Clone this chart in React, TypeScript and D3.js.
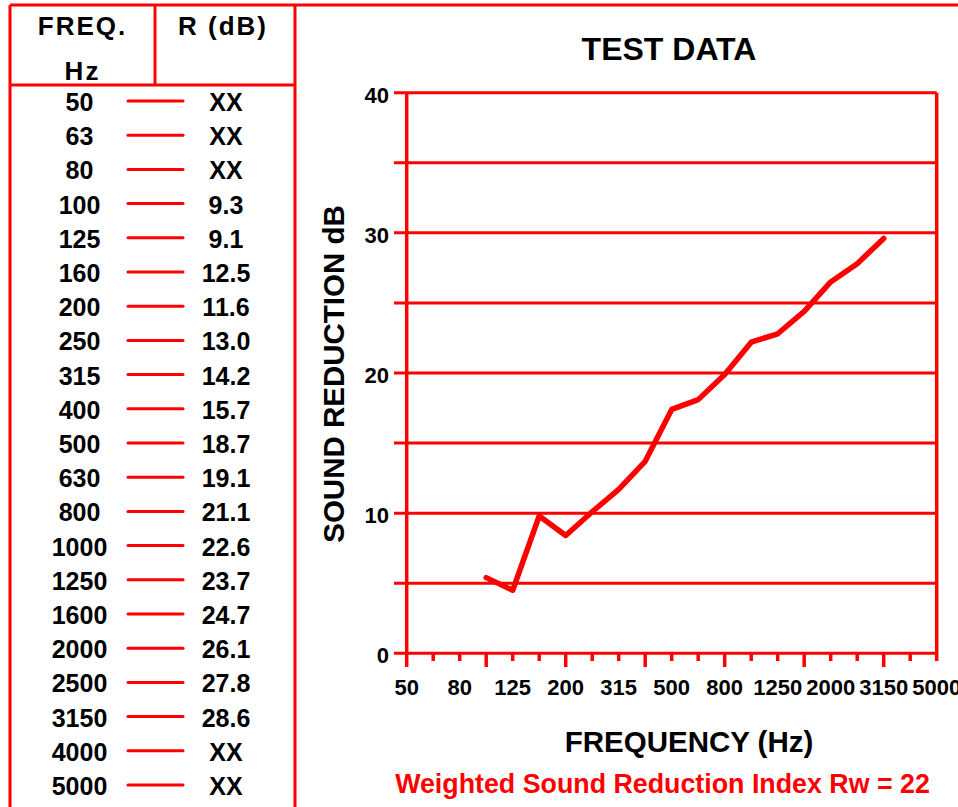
import React, { useEffect, useRef } from 'react';
import * as d3 from 'd3';

// one-third octave bands, used for the table rows and the x axis
const bands = ['50', '63', '80', '100', '125', '160', '200', '250', '315', '400', '500',
  '630', '800', '1000', '1250', '1600', '2000', '2500', '3150', '4000', '5000'];

// R (dB) column as printed in the table
const tableValues = ['XX', 'XX', 'XX', '9.3', '9.1', '12.5', '11.6', '13.0', '14.2', '15.7', '18.7',
  '19.1', '21.1', '22.6', '23.7', '24.7', '26.1', '27.8', '28.6', 'XX', 'XX'];

// curve as drawn on the graph
const curveFreqs = ['100', '125', '160', '200', '250', '315', '400', '500', '630', '800',
  '1000', '1250', '1600', '2000', '2500', '3150'];
const curveValues = [5.4, 4.5, 9.8, 8.4, 10.1, 11.7, 13.7, 17.4, 18.1, 19.9,
  22.2, 22.8, 24.4, 26.5, 27.8, 29.6];

const xTickLabels = ['50', '80', '125', '200', '315', '500', '800', '1250', '2000', '3150', '5000'];
const yTickLabels = [0, 10, 20, 30, 40];
const gridValues = [5, 10, 15, 20, 25, 30, 35];

const RED = '#ff0000';
const FONT = '"Liberation Sans", Arial, Helvetica, sans-serif';

export default function App() {
  const ref = useRef<SVGSVGElement | null>(null);

  useEffect(() => {
    const svg = d3.select(ref.current);
    svg.selectAll('*').remove();

    const width = 958;
    const height = 807;

    // ---- table on the left ----
    const tbl = svg.append('g');
    const border = (x1: number, y1: number, x2: number, y2: number) =>
      tbl.append('line')
        .attr('x1', x1).attr('y1', y1).attr('x2', x2).attr('y2', y2)
        .attr('stroke', RED).attr('stroke-width', 3);

    border(10, 5, width, 5);
    border(10, 5, 10, height);
    border(155, 5, 155, 85);
    border(295, 5, 295, height);
    border(10, 85, 295, 85);

    const header = [
      { t: 'FREQ.', x: 82.5, y: 35 },
      { t: 'Hz', x: 82.5, y: 80 },
      { t: 'R (dB)', x: 223, y: 35 },
    ];
    tbl.selectAll('text.hdr')
      .data(header)
      .enter()
      .append('text')
        .attr('class', 'hdr')
        .attr('x', d => d.x)
        .attr('y', d => d.y)
        .attr('text-anchor', 'middle')
        .style('font-size', '26px')
        .style('letter-spacing', '2px')
        .text(d => d.t);

    const rowY = d3.scalePoint<string>().domain(bands).range([111, 795]);

    tbl.selectAll('text.freq')
      .data(bands)
      .enter()
      .append('text')
        .attr('class', 'freq')
        .attr('x', 79.5)
        .attr('y', d => rowY(d)!)
        .attr('text-anchor', 'middle')
        .style('font-size', '25px')
        .text(d => d);

    tbl.selectAll('line.dash')
      .data(bands)
      .enter()
      .append('line')
        .attr('class', 'dash')
        .attr('x1', 128).attr('x2', 183)
        .attr('y1', d => rowY(d)! - 10)
        .attr('y2', d => rowY(d)! - 10)
        .attr('stroke', RED)
        .attr('stroke-width', 3)
        .attr('stroke-linecap', 'round');

    tbl.selectAll('text.val')
      .data(bands)
      .enter()
      .append('text')
        .attr('class', 'val')
        .attr('x', 226)
        .attr('y', d => rowY(d)!)
        .attr('text-anchor', 'middle')
        .style('font-size', '25px')
        .text((d, i) => tableValues[i]);

    // ---- graph ----
    const x = d3.scalePoint<string>().domain(bands).range([406.7, 936.7]);
    const y = d3.scaleLinear().domain([0, 40]).range([653.3, 92.7]);
    const g = svg.append('g');

    // horizontal grid lines (they poke out left of the axis)
    g.selectAll('line.grid')
      .data([0, ...gridValues, 40])
      .enter()
      .append('line')
        .attr('class', 'grid')
        .attr('x1', 394)
        .attr('x2', x('5000')!)
        .attr('y1', d => y(d))
        .attr('y2', d => y(d))
        .attr('stroke', RED)
        .attr('stroke-width', 3);

    // frame
    g.append('line')
      .attr('x1', x('50')!).attr('x2', x('50')!)
      .attr('y1', y(40)).attr('y2', 667)
      .attr('stroke', RED).attr('stroke-width', 3.5);
    g.append('line')
      .attr('x1', x('5000')!).attr('x2', x('5000')!)
      .attr('y1', y(40)).attr('y2', 661)
      .attr('stroke', RED).attr('stroke-width', 3.5);

    // x ticks: long at every octave, short otherwise
    g.selectAll('line.xt')
      .data(bands.slice(1, -1))
      .enter()
      .append('line')
        .attr('class', 'xt')
        .attr('x1', d => x(d)!)
        .attr('x2', d => x(d)!)
        .attr('y1', y(0))
        .attr('y2', d => (bands.indexOf(d) % 3 === 0 ? 667 : 661))
        .attr('stroke', RED)
        .attr('stroke-width', 3.5);

    g.selectAll('text.xl')
      .data(xTickLabels)
      .enter()
      .append('text')
        .attr('class', 'xl')
        .attr('x', d => x(d)!)
        .attr('y', 695)
        .attr('text-anchor', 'middle')
        .style('font-size', '22px')
        .text(d => d);

    g.selectAll('text.yl')
      .data(yTickLabels)
      .enter()
      .append('text')
        .attr('class', 'yl')
        .attr('x', 389)
        .attr('y', d => y(d) + 10)
        .attr('text-anchor', 'end')
        .style('font-size', '22px')
        .text(d => d);

    // the measured curve
    const line = d3.line<number>()
      .x((d, i) => x(curveFreqs[i])!)
      .y(d => y(d));
    g.append('path')
      .datum(curveValues)
      .attr('d', line)
      .attr('fill', 'none')
      .attr('stroke', RED)
      .attr('stroke-width', 5.5)
      .attr('stroke-linejoin', 'round')
      .attr('stroke-linecap', 'round');

    // titles
    svg.append('text')
      .attr('x', 669).attr('y', 60)
      .attr('text-anchor', 'middle')
      .style('font-size', '32px')
      .text('TEST DATA');

    svg.append('text')
      .attr('transform', 'translate(344,374) rotate(-90)')
      .attr('text-anchor', 'middle')
      .style('font-size', '29.5px')
      .text('SOUND REDUCTION dB');

    svg.append('text')
      .attr('x', 689).attr('y', 752)
      .attr('text-anchor', 'middle')
      .style('font-size', '29.5px')
      .text('FREQUENCY (Hz)');

    svg.append('text')
      .attr('x', 662.5).attr('y', 793)
      .attr('text-anchor', 'middle')
      .style('font-size', '26.8px')
      .attr('fill', RED)
      .text('Weighted Sound Reduction Index Rw = 22');
  }, []);

  return (
    <div style={{ position: 'absolute', left: 0, top: 0 }}>
      <svg
        ref={ref}
        width={958}
        height={807}
        style={{ display: 'block', background: '#fff', fontFamily: FONT, fontWeight: 'bold' }}
      />
    </div>
  );
}
